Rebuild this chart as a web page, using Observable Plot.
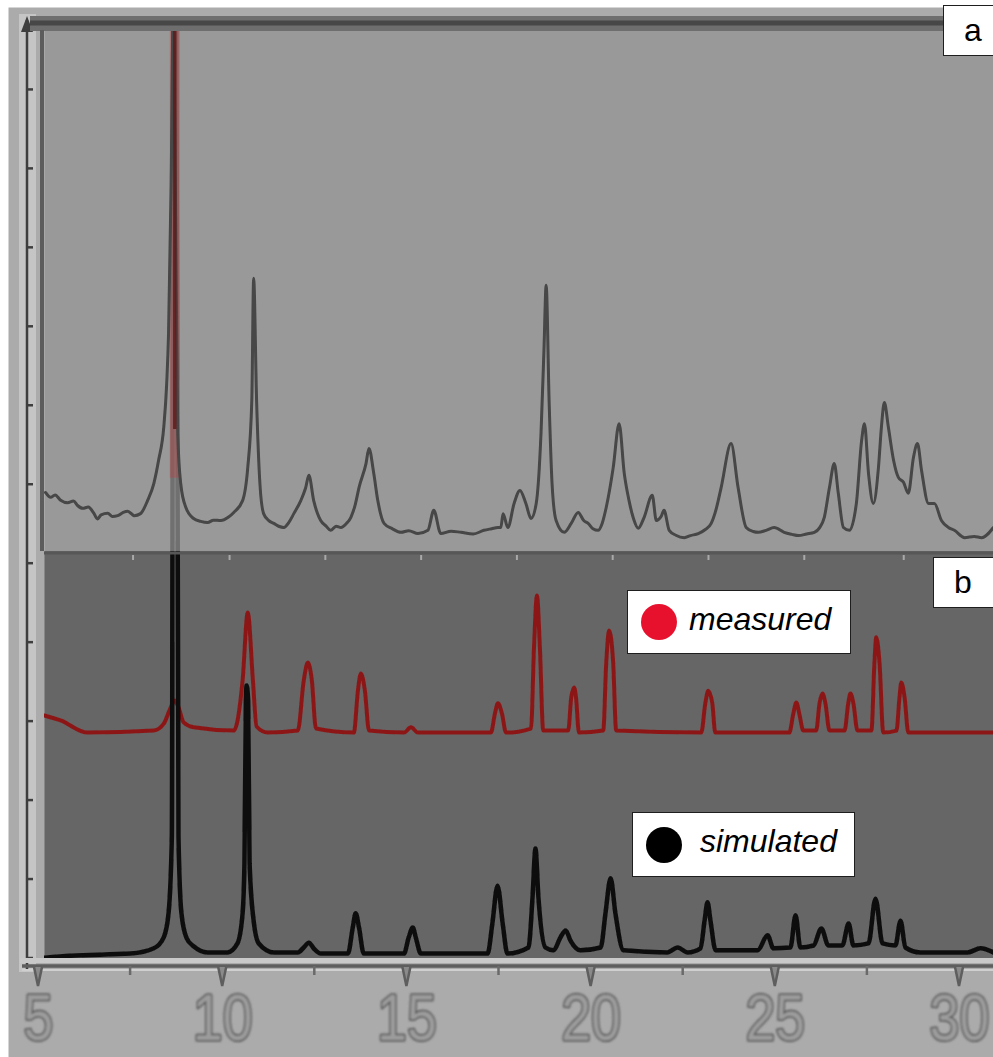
<!DOCTYPE html>
<html>
<head>
<meta charset="utf-8">
<script src="https://cdn.jsdelivr.net/npm/d3@7"></script>
<script src="https://cdn.jsdelivr.net/npm/@observablehq/plot@0.6"></script>
<style>
  body { margin: 0; background: #fff; }
  #chart { position: relative; width: 993px; height: 1057px; overflow: hidden; font-family: "Liberation Sans", Arial, sans-serif; }
  #chart svg { display: block; position: absolute; left: 0; top: 0; }
  .tag { position: absolute; background: #fff; border: 1.5px solid #1e1e1e; box-sizing: border-box;
         display: flex; align-items: center; color: #000; }
  .tag .dot { width: 36px; height: 36px; border-radius: 50%; flex: none; }
  .tag .txt { font-style: italic; font-size: 32px; position: relative; top: -3px; }
  .tag.panel { font-size: 32px; }
</style>
</head>
<body>
<div id="chart"></div>
<script>
// 2θ axis ticks (degrees)
const twoThetaTicks = [5, 10, 15, 20, 25, 30];
const twoThetaMinor = [7.5, 12.5, 17.5, 22.5, 27.5];
// tick marks along the lower edge of panel a
const panelATicks = [7.58, 10.2, 12.8, 15.4, 18.0, 20.6, 23.2, 25.8, 28.5];
// tick marks on the intensity axis
const intensityTicks = [0, 19.4, 38.8, 58.2, 77.6, 97, 116.4, 135.8, 155.2, 174.6, 194, 213.4];

// panel b spans intensity 0–100, panel a is stacked above it
const panelBreak = 100;
const intensityTop = 228;
const highlightPeak = 8.7;

// panel a: powder pattern, [2θ, intensity above panel a baseline]
const patternA = [
  [5.19,14.5],[5.33,13.3],[5.45,13.9],[5.6,12.6],[5.79,12.0],[5.95,12.4],[6.06,11.3],[6.2,10.6],[6.35,10.9],
  [6.5,9.4],[6.6,8.0],[6.7,9.0],[6.88,9.4],[7.0,8.6],[7.15,8.8],[7.3,9.6],[7.42,9.9],[7.6,8.8],[7.77,9.3],
  [7.96,12.5],[8.13,16.7],[8.26,22.4],[8.4,30.5],[8.48,41.3],[8.53,53.6],[8.6,90],[8.66,135],[8.72,85],
  [8.78,29.0],[8.86,16.7],[9.0,10.8],[9.21,8.1],[9.4,7.4],[9.59,7.1],[9.75,7.7],[9.95,7.6],[10.15,8.4],
  [10.3,9.6],[10.54,12.5],[10.68,20.6],[10.79,37.1],[10.84,67.1],[10.92,37.1],[11.01,16.7],[11.11,9.3],
  [11.25,7.6],[11.39,6.9],[11.52,6.2],[11.66,5.9],[11.8,7.2],[11.93,9.3],[12.12,12.5],[12.25,15.6],
  [12.34,18.7],[12.47,12.5],[12.66,7.6],[12.8,6.3],[12.93,5.2],[13.08,6.2],[13.21,5.9],[13.35,6.8],
  [13.48,8.4],[13.6,11.6],[13.7,15.7],[13.89,21.6],[13.97,25.3],[14.1,19.2],[14.21,12.5],[14.38,6.9],
  [14.6,5.6],[14.84,4.7],[15.05,5.1],[15.3,4.4],[15.57,5.2],[15.73,10.1],[15.92,4.4],[16.2,5.0],
  [16.47,4.7],[16.8,4.3],[17.09,5.2],[17.3,5.6],[17.47,5.9],[17.55,5.9],[17.61,9.3],[17.74,5.9],
  [17.91,11.8],[18.07,15.0],[18.23,11.8],[18.37,8.1],[18.51,11.8],[18.64,29.0],[18.72,49.4],[18.78,65.4],
  [18.86,37.1],[18.94,16.7],[19.05,7.6],[19.27,4.7],[19.46,6.9],[19.65,9.6],[19.8,7.6],[19.92,6.9],
  [20.05,5.6],[20.19,5.2],[20.3,6.9],[20.41,10.8],[20.6,20.6],[20.76,31.4],[20.9,19.2],[21.03,12.5],
  [21.15,8.1],[21.28,5.7],[21.44,8.4],[21.66,13.8],[21.77,7.6],[21.9,8.6],[21.98,10.1],[22.12,5.2],
  [22.3,4.0],[22.53,3.4],[22.7,3.9],[22.91,4.4],[23.1,5.4],[23.26,6.9],[23.4,10.6],[23.53,15.7],
  [23.8,26.5],[23.99,15.7],[24.21,5.9],[24.4,4.9],[24.54,4.7],[24.75,5.2],[24.97,5.9],[25.24,4.7],
  [25.45,4.2],[25.63,3.9],[25.85,4.3],[26.06,4.7],[26.2,5.8],[26.33,8.4],[26.47,15.7],[26.6,21.6],
  [26.71,14.3],[26.85,5.9],[27.01,5.2],[27.2,11.8],[27.34,27.0],[27.42,31.4],[27.53,19.2],[27.66,11.8],
  [27.8,20.6],[27.88,30.5],[27.96,36.6],[28.07,30.5],[28.21,22.4],[28.34,18.2],[28.48,17.0],[28.61,14.3],
  [28.75,23.1],[28.86,26.5],[28.97,19.9],[29.16,11.8],[29.32,11.8],[29.51,7.6],[29.7,5.9],[29.86,5.2],
  [30.14,3.4],[30.4,3.7],[30.6,3.4],[30.92,5.9]
];

// panel b, measured pattern: [2θ, intensity]
const measured = [
  [5.16,59.7],[5.6,58.5],[6.33,55.5],[8.13,56.0],[8.4,57.7],[8.59,61.7],[8.7,63.4],[8.8,61.7],[8.94,58.0],
  [9.21,56.8],[10.3,56.0],[10.54,68.3],[10.68,85.0],[10.82,68.3],[10.92,57.0],[11.22,55.5],
  [12.04,56.0],[12.2,68.3],[12.31,72.7],[12.42,68.3],[12.53,56.5],[13.56,55.5],[13.67,65.8],[13.75,70.0],
  [13.86,65.8],[13.97,56.0],[14.92,55.5],[15.11,56.8],[15.3,55.5],[17.28,55.5],[17.39,60.2],[17.47,62.7],
  [17.58,60.2],[17.69,55.5],[18.37,56.5],[18.45,76.4],[18.53,89.2],[18.61,76.4],[18.7,56.0],[19.38,56.0],
  [19.46,64.1],[19.54,66.6],[19.59,64.1],[19.67,55.5],[20.33,56.0],[20.41,72.5],[20.49,80.6],[20.6,72.5],
  [20.68,56.0],[22.99,55.5],[23.1,62.7],[23.18,65.8],[23.29,62.7],[23.37,55.5],[25.38,55.5],[25.49,60.2],
  [25.57,62.9],[25.65,60.2],[25.76,56.0],[26.11,56.0],[26.2,62.7],[26.28,65.1],[26.36,62.7],[26.47,56.0],
  [26.88,56.0],[26.98,62.7],[27.04,65.1],[27.12,62.7],[27.23,56.0],[27.61,56.0],[27.69,72.5],[27.74,78.9],
  [27.83,72.5],[27.93,55.5],[28.29,56.0],[28.37,64.1],[28.42,67.8],[28.51,64.1],[28.61,55.5],[30.95,55.5]
];

// panel b, simulated pattern: [2θ, intensity]
const simulated = [
  [5.16,0.2],[5.87,0.7],[7.5,1.2],[8.13,2.5],[8.4,5.2],[8.53,11.1],[8.62,30],[8.66,232],[8.74,232],
  [8.8,30],[8.88,11.1],[9.02,5.0],[9.21,3.0],[9.59,1.5],[10.13,1.5],[10.4,3.7],[10.54,11.1],[10.59,23.3],
  [10.63,63.4],[10.65,67.1],[10.69,63.4],[10.73,23.3],[10.84,9.3],[10.98,3.7],[11.39,1.5],[12.04,1.5],
  [12.2,2.7],[12.34,3.9],[12.47,2.5],[12.66,1.2],[13.4,1.2],[13.53,7.6],[13.61,11.1],[13.7,7.6],[13.83,1.2],
  [14.92,1.2],[15.05,5.2],[15.16,7.6],[15.24,5.2],[15.38,1.2],[17.19,1.2],[17.32,8.6],[17.46,17.9],
  [17.6,8.6],[17.73,1.2],[18.3,2.7],[18.41,15.0],[18.49,27.0],[18.57,15.0],[18.76,2.7],[18.98,2.0],
  [19.17,5.2],[19.31,6.9],[19.44,4.4],[19.71,2.0],[20.26,2.7],[20.39,11.1],[20.53,19.7],[20.66,11.1],
  [20.88,2.0],[22.07,1.5],[22.35,2.7],[22.62,1.5],[22.97,2.5],[23.08,9.3],[23.16,13.8],[23.24,9.3],
  [23.38,2.0],[24.52,2.0],[24.79,5.7],[24.95,2.5],[25.41,2.7],[25.55,10.6],[25.68,2.7],[26.04,3.2],
  [26.25,7.4],[26.44,3.2],[26.82,3.2],[26.99,8.6],[27.12,3.2],[27.53,3.7],[27.72,14.7],[27.91,3.7],
  [28.26,3.2],[28.4,9.3],[28.53,2.7],[28.94,1.5],[30.22,1.5],[30.57,2.5],[30.92,1.5]
];

const legendItems = [
  {label: "measured", color: "#e8112d", left: 627, top: 590, width: 224, height: 64, gap: 12},
  {label: "simulated", color: "#000000", left: 632, top: 812, width: 223, height: 65, gap: 18}
];
const panelLabels = [
  {label: "a", left: 943, top: 5},
  {label: "b", left: 933, top: 557}
];

// intensity axis on the far left, with its light band and arrow head
function intensityAxis(index, {y}, values, {marginLeft, marginTop, height, marginBottom}) {
  const g = d3.create("svg:g");
  const ax = marginLeft - 17;
  const top = marginTop - 14, bottom = height - marginBottom + 12;
  g.append("rect").attr("x", ax - 8).attr("y", top - 2).attr("width", 17).attr("height", bottom - top + 4)
    .attr("fill", "#c5c5c5");
  g.append("line").attr("x1", ax).attr("x2", ax).attr("y1", top + 4).attr("y2", bottom)
    .attr("stroke", "#3e3e3e").attr("stroke-width", 2.5);
  g.append("path").attr("d", `M${ax - 6},${top + 16}L${ax},${top}L${ax + 6},${top + 16}Z`).attr("fill", "#3e3e3e");
  for (const v of intensityTicks) {
    g.append("line").attr("x1", ax).attr("x2", ax + 6).attr("y1", y(v)).attr("y2", y(v))
      .attr("stroke", "#3e3e3e").attr("stroke-width", 2.5);
  }
  return g.node();
}

// borders of panel a (top band, left edge, lower edge with its ticks)
function panelAFrame(index, {x, y}, values, {width, marginLeft, marginTop}) {
  const g = d3.create("svg:g");
  g.append("rect").attr("x", marginLeft - 14).attr("y", marginTop - 14).attr("width", width).attr("height", 15)
    .attr("fill", "#6e6e6e");
  g.append("line").attr("x1", marginLeft - 14).attr("x2", width).attr("y1", marginTop - 7).attr("y2", marginTop - 7)
    .attr("stroke", "#474747").attr("stroke-width", 5);
  g.append("line").attr("x1", marginLeft - 2).attr("x2", marginLeft - 2).attr("y1", marginTop).attr("y2", y(panelBreak))
    .attr("stroke", "#5c5c5c").attr("stroke-width", 4);
  const yb = y(panelBreak) + 2;
  g.append("line").attr("x1", marginLeft).attr("x2", width).attr("y1", yb).attr("y2", yb)
    .attr("stroke", "#575757").attr("stroke-width", 3);
  for (const t of panelATicks) {
    g.append("line").attr("x1", x(t)).attr("x2", x(t)).attr("y1", yb + 2).attr("y2", yb + 7)
      .attr("stroke", "#a9a9a9").attr("stroke-width", 2);
  }
  return g.node();
}

// 2θ axis line and tick marks under panel b
function twoThetaAxis(index, {x}, values, {width, height, marginBottom}) {
  const g = d3.create("svg:g");
  const y0 = height - marginBottom;
  g.append("rect").attr("x", 20).attr("y", y0).attr("width", width).attr("height", 5).attr("fill", "#c9c9c9");
  g.append("line").attr("x1", 22).attr("x2", width).attr("y1", y0 + 8).attr("y2", y0 + 8)
    .attr("stroke", "#5e5e5e").attr("stroke-width", 3.5);
  g.append("line").attr("x1", 22).attr("x2", width).attr("y1", y0 + 12).attr("y2", y0 + 12)
    .attr("stroke", "#cfcfcf").attr("stroke-width", 2);
  for (const t of twoThetaTicks) {
    const px = x(t);
    g.append("path").attr("d", `M${px - 4},${y0 + 9}L${px},${y0 + 28}L${px + 4},${y0 + 9}`)
      .attr("fill", "#8a8a8a").attr("stroke", "#5e5e5e").attr("stroke-width", 2.5);
  }
  for (const t of twoThetaMinor) {
    g.append("line").attr("x1", x(t)).attr("x2", x(t)).attr("y1", y0 + 8).attr("y2", y0 + 17)
      .attr("stroke", "#6a6a6a").attr("stroke-width", 2.5);
  }
  return g.node();
}

const lift = (rows) => rows.map(([t, v]) => [t, v + panelBreak]);

const svg = Plot.plot({
  width: 993,
  height: 1057,
  marginTop: 30,
  marginRight: 0,
  marginBottom: 99,
  marginLeft: 44,
  style: {background: "transparent", overflow: "visible"},
  x: {domain: [5, 30], range: [38, 959], axis: null},
  y: {domain: [0, intensityTop], axis: null},
  marks: [
    // outer grey surround
    Plot.frame({fill: "#ababab", stroke: "none", insetLeft: -36, insetTop: -23, insetBottom: -99}),
    intensityAxis,
    // panel b background
    Plot.frame({fill: "#666666", stroke: "none"}),
    Plot.line(measured, {x: d => d[0], y: d => d[1], stroke: "#8c1818", strokeWidth: 4, curve: "monotone-x", clip: "frame"}),
    Plot.line(simulated, {x: d => d[0], y: d => d[1], stroke: "#0d0d0d", strokeWidth: 4.5, curve: "monotone-x", clip: "frame"}),
    // panel a sits over panel b, letting the strongest simulated reflection show through
    Plot.rect([{x1: 5, x2: 31, y1: panelBreak, y2: intensityTop}], {x1: "x1", x2: "x2", y1: "y1", y2: "y2",
      fill: "#c3c3c3", fillOpacity: 0.55, clip: "frame"}),
    Plot.ruleX([highlightPeak], {y1: panelBreak + 18, y2: intensityTop + 4, stroke: "#c23a3a", strokeWidth: 10, strokeOpacity: 0.35, clip: "frame"}),
    Plot.line(lift(patternA), {x: d => d[0], y: d => d[1], stroke: "#464646", strokeWidth: 3, curve: "monotone-x", clip: "frame"}),
    Plot.ruleX([highlightPeak], {y1: panelBreak + 30, y2: intensityTop + 4, stroke: "#5e1b1b", strokeWidth: 3.5, strokeOpacity: 0.85, clip: "frame"}),
    panelAFrame,
    twoThetaAxis,
    Plot.text(twoThetaTicks, {x: d => d, frameAnchor: "bottom", lineAnchor: "top", dy: 36, text: d => String(d),
      fontSize: 64, fontFamily: "Liberation Sans, Arial, sans-serif", fill: "#9c9c9c",
      stroke: "#4e4e4e", strokeWidth: 3, paintOrder: "stroke"})
  ]
});

// soft edges on the traces and the axis numerals
const root = d3.select(svg);
root.insert("defs", ":first-child").html(
  '<filter id="soft" x="-5%" y="-5%" width="110%" height="110%"><feGaussianBlur stdDeviation="0.7"/></filter>' +
  '<filter id="softer" x="-10%" y="-10%" width="120%" height="120%"><feGaussianBlur stdDeviation="1.1"/></filter>'
);
root.selectAll('g[aria-label="line"]').attr("filter", "url(#soft)");
root.selectAll('g[aria-label="text"]').attr("filter", "url(#softer)");
// narrow the axis numerals
root.selectAll('g[aria-label="text"] text').each(function () {
  const t = this.getAttribute("transform");
  if (t) {
    this.setAttribute("transform", t + " scale(0.84,1)");
  } else {
    const px = +this.getAttribute("x") || 0, py = +this.getAttribute("y") || 0;
    this.removeAttribute("x"); this.removeAttribute("y");
    this.setAttribute("transform", `translate(${px},${py}) scale(0.84,1)`);
  }
});

const chart = document.getElementById("chart");
chart.appendChild(svg);

for (const item of legendItems) {
  const box = document.createElement("div");
  box.className = "tag";
  Object.assign(box.style, {left: item.left + "px", top: item.top + "px", width: item.width + "px",
    height: item.height + "px", paddingLeft: "13px", gap: item.gap + "px"});
  const dot = document.createElement("span");
  dot.className = "dot";
  dot.style.background = item.color;
  const txt = document.createElement("span");
  txt.className = "txt";
  txt.textContent = item.label;
  box.append(dot, txt);
  chart.appendChild(box);
}
for (const p of panelLabels) {
  const box = document.createElement("div");
  box.className = "tag panel";
  Object.assign(box.style, {left: p.left + "px", top: p.top + "px", width: "70px", height: "51px", paddingLeft: "20px"});
  box.textContent = p.label;
  chart.appendChild(box);
}
</script>
</body>
</html>
